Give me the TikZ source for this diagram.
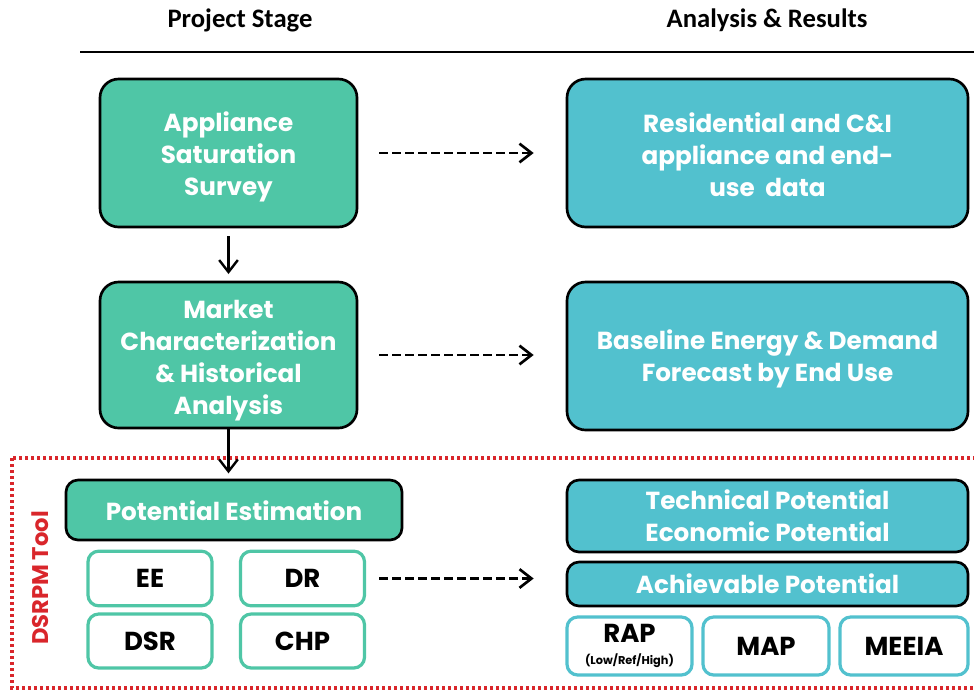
\documentclass[tikz,border=0pt]{standalone}
\usepackage{fontspec}
\setmainfont{Poppins}
\newfontfamily\hdr{Carlito}
\usetikzlibrary{arrows.meta}
\definecolor{grn}{HTML}{4FC6A6}
\definecolor{cyn}{HTML}{52C1CE}
\definecolor{dred}{HTML}{D9262B}
\begin{document}
\begin{tikzpicture}[x=0.75pt,y=-0.75pt,
  boxtxt/.style={text=white, font=\fontsize{18.5}{24}\selectfont\bfseries, align=center},
  gbox/.style={draw=black, fill=grn, line width=2pt, rounded corners=14pt},
  cbox/.style={draw=black, fill=cyn, line width=2pt, rounded corners=14pt},
  gsub/.style={draw=grn, fill=white, line width=2.4pt, rounded corners=8pt, font=\fontsize{19.5}{20}\selectfont\bfseries, text=black, align=center},
  csub/.style={draw=cyn, fill=white, line width=2.4pt, rounded corners=8pt, font=\fontsize{19.5}{20}\selectfont\bfseries, text=black, align=center},
  solidarr/.style={-{Straight Barb[length=9pt,width=14pt,line width=1.8pt]}, line width=1.8pt},
  dasharr/.style={-{Straight Barb[length=9pt,width=14pt,line width=2pt]}, line width=2pt, dash pattern=on 6.75pt off 3pt},
  headtxt/.style={font=\hdr\fontsize{20}{22}\selectfont\bfseries}
]
\useasboundingbox (0,0) rectangle (974,690);

\node[headtxt] (h1) at (240,20) {Project Stage};
\node[headtxt] (h2) at (767,20) {Analysis \& Results};
\draw[line width=2.2pt] (80,52) -- (974,52);

\draw[dred, line width=2.4pt, dash pattern=on 2.2pt off 2.3pt] (12,458) rectangle (990,688);
\node[rotate=90, text=dred, font=\fontsize{17}{18}\selectfont\bfseries] (tool) at (40,578) {DSRPM Tool};

\node[gbox, minimum width=192.75pt, minimum height=111pt] (b1) at (228.5,153) {};
\node[boxtxt] (b1t) at ([yshift=-2.6pt]b1.center) {Appliance\\Saturation\\Survey};
\node[cbox, minimum width=300.75pt, minimum height=111pt] (r1) at (767.5,153) {};
\node[boxtxt] (r1t) at ([yshift=-1.5pt]r1.center) {Residential and C\&I\\appliance and end-\\use\ \ data};
\node[gbox, minimum width=192.75pt, minimum height=109.5pt] (b2) at (228.5,355) {};
\node[boxtxt] (b2t) at ([yshift=-4.5pt]b2.center) {Market\\Characterization\\\& Historical\\Analysis};
\node[cbox, minimum width=300.75pt, minimum height=111pt] (r2) at (767.5,356) {};
\node[boxtxt] (r2t) at ([yshift=-2.2pt]r2.center) {Baseline Energy \& Demand\\Forecast by End Use};

\node[gbox, rounded corners=9pt, minimum width=252pt, minimum height=45pt] (pe) at (234,510) {};
\node[boxtxt] (pet) at ([yshift=-0.8pt]pe.center) {Potential Estimation};
\node[gsub, minimum width=93pt, minimum height=41pt] (ee) at (150,578.5) {EE};
\node[gsub, minimum width=93pt, minimum height=41pt] (dr) at (302.5,578.5) {DR};
\node[gsub, minimum width=93pt, minimum height=40.5pt] (dsr) at (150,641) {DSR};
\node[gsub, minimum width=93pt, minimum height=40.5pt] (chp) at (302.5,641) {CHP};

\node[cbox, rounded corners=9pt, minimum width=300.75pt, minimum height=54pt] (te) at (767.5,516) {};
\node[boxtxt] (tet) at (te.center) {Technical Potential\\Economic Potential};
\node[cbox, rounded corners=9pt, minimum width=300.75pt, minimum height=33pt] (ap) at (767.5,584) {};
\node[boxtxt] (apt) at (ap.center) {Achievable Potential};
\node[csub, minimum width=93.75pt, minimum height=43.5pt] (rap) at (629.5,646) {RAP\\[-4pt]{\fontsize{8.5}{9}\selectfont (Low/Ref/High)}};
\node[csub, minimum width=94.5pt, minimum height=43.5pt] (map) at (766,646) {MAP};
\node[csub, minimum width=96pt, minimum height=43.5pt] (meeia) at (904,646) {MEEIA};

\draw[solidarr, shorten <=6pt, shorten >=5pt] (b1.south) -- (b2.north);
\draw[solidarr, shorten >=4pt] (b2.south) -- (b2.south |- pe.north);
\draw[dasharr, shorten <=15.75pt, shorten >=24pt] (b1.east) -- (r1.west);
\draw[dasharr, shorten <=15.75pt, shorten >=24pt] (b2.east) -- (b2.east -| r2.west);
\draw[dasharr, shorten <=9.75pt, shorten >=24pt] (dr.east) -- (dr.east -| ap.west);
\end{tikzpicture}
\end{document}
